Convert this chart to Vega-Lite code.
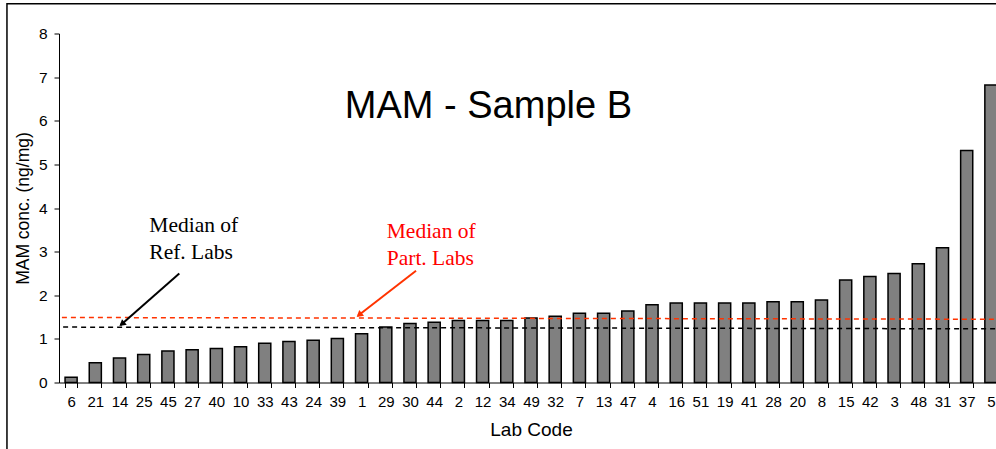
{
  "$schema": "https://vega.github.io/schema/vega-lite/v6.json",
  "width": 937,
  "height": 349,
  "autosize": {"type": "none"},
  "padding": {"left": 59, "top": 33.5, "right": 0, "bottom": 66.5},
  "background": "white",
  "config": {"view": {"stroke": null}, "font": "Liberation Sans"},
  "datasets": {
    "bars": [
      {"lab": "6", "value": 0.12}, {"lab": "21", "value": 0.45}, {"lab": "14", "value": 0.56},
      {"lab": "25", "value": 0.64}, {"lab": "45", "value": 0.72}, {"lab": "27", "value": 0.75},
      {"lab": "40", "value": 0.78}, {"lab": "10", "value": 0.82}, {"lab": "33", "value": 0.90},
      {"lab": "43", "value": 0.94}, {"lab": "24", "value": 0.97}, {"lab": "39", "value": 1.01},
      {"lab": "1", "value": 1.12}, {"lab": "29", "value": 1.27}, {"lab": "30", "value": 1.35},
      {"lab": "44", "value": 1.38}, {"lab": "2", "value": 1.42}, {"lab": "12", "value": 1.42},
      {"lab": "34", "value": 1.42}, {"lab": "49", "value": 1.48}, {"lab": "32", "value": 1.52},
      {"lab": "7", "value": 1.59}, {"lab": "13", "value": 1.59}, {"lab": "47", "value": 1.64},
      {"lab": "4", "value": 1.78}, {"lab": "16", "value": 1.82}, {"lab": "51", "value": 1.82},
      {"lab": "19", "value": 1.82}, {"lab": "41", "value": 1.82}, {"lab": "28", "value": 1.85},
      {"lab": "20", "value": 1.85}, {"lab": "8", "value": 1.89}, {"lab": "15", "value": 2.35},
      {"lab": "42", "value": 2.43}, {"lab": "3", "value": 2.50}, {"lab": "48", "value": 2.72},
      {"lab": "31", "value": 3.09}, {"lab": "37", "value": 5.32}, {"lab": "5", "value": 6.82}
    ],
    "medians": [
      {"group": "Ref. Labs", "x": 0.17, "x2": 39, "y": 1.27, "y2": 1.23},
      {"group": "Part. Labs", "x": 0.12, "x2": 39, "y": 1.49, "y2": 1.45}
    ],
    "arrows": [
      {"group": "Ref. Labs", "x": 4.97, "y": 2.50, "x2": 2.55, "y2": 1.32},
      {"group": "Part. Labs", "x": 14.75, "y": 2.56, "x2": 12.35, "y2": 1.53}
    ],
    "heads": [
      {"group": "Ref. Labs", "x": 2.60, "y": 1.34},
      {"group": "Part. Labs", "x": 12.40, "y": 1.55}
    ],
    "title": [{"label": "MAM - Sample B", "x": 17.74, "y": 6.07}],
    "refText": [{"label": "Median of\nRef. Labs", "x": 3.73, "y": 3.45}],
    "partText": [{"label": "Median of\nPart. Labs", "x": 13.54, "y": 3.32}],
    "frame": [{"x": -2.15, "x2": 41, "y": 8.68, "y2": -2.5}]
  },
  "resolve": {"scale": {"x": "independent"}, "axis": {"x": "independent"}},
  "layer": [
    {
      "data": {"name": "bars"},
      "mark": {"type": "bar", "fill": "#808080", "stroke": "#000000", "strokeWidth": 1.5},
      "encoding": {
        "x": {
          "field": "lab", "type": "nominal", "sort": null,
          "scale": {"range": [0, 944], "paddingInner": 0.5, "paddingOuter": 0.25},
          "axis": {
            "title": "Lab Code", "titleFont": "Liberation Sans", "titleFontSize": 19, "titleFontWeight": "normal",
            "titleColor": "#000000", "titlePadding": 11,
            "labelAngle": 0, "labelFont": "Liberation Sans", "labelFontSize": 15, "labelColor": "#000000",
            "labelPadding": 7, "ticks": true, "tickSize": 5, "tickColor": "#000000", "tickWidth": 1,
            "domain": true, "domainColor": "#000000", "domainWidth": 1,
            "tickBand": "extent", "labelOverlap": false
          }
        },
        "y": {
          "field": "value", "type": "quantitative", "title": "MAM conc. (ng/mg)",
          "scale": {"domain": [0, 8], "nice": false},
          "axis": {
            "titleFont": "Liberation Sans", "titleFontSize": 17.5, "titleFontWeight": "normal",
            "titleColor": "#000000", "titlePadding": 6,
            "values": [0, 1, 2, 3, 4, 5, 6, 7, 8], "grid": false,
            "labelFont": "Liberation Sans", "labelFontSize": 15.5, "labelColor": "#000000", "labelPadding": 7,
            "ticks": true, "tickSize": 5, "tickColor": "#000000", "tickWidth": 1,
            "domain": true, "domainColor": "#000000", "domainWidth": 1
          }
        }
      }
    },
    {
      "data": {"name": "medians"},
      "mark": {"type": "rule", "strokeWidth": 1.5, "strokeDash": [5, 4]},
      "encoding": {
        "x": {"field": "x", "type": "quantitative", "scale": {"domain": [0, 39], "range": [0, 944], "nice": false, "zero": false}, "axis": null},
        "x2": {"field": "x2"},
        "y": {"field": "y", "type": "quantitative", "title": "MAM conc. (ng/mg)", "scale": {"domain": [0, 8], "nice": false}},
        "y2": {"field": "y2"},
        "color": {"field": "group", "type": "nominal", "scale": {"domain": ["Ref. Labs", "Part. Labs"], "range": ["#000000", "#ff3300"]}, "legend": null}
      }
    },
    {
      "data": {"name": "arrows"},
      "mark": {"type": "rule", "strokeWidth": 2},
      "encoding": {
        "x": {"field": "x", "type": "quantitative", "scale": {"domain": [0, 39], "range": [0, 944], "nice": false, "zero": false}, "axis": null},
        "x2": {"field": "x2"},
        "y": {"field": "y", "type": "quantitative", "title": "MAM conc. (ng/mg)", "scale": {"domain": [0, 8], "nice": false}},
        "y2": {"field": "y2"},
        "color": {"field": "group", "type": "nominal", "scale": {"domain": ["Ref. Labs", "Part. Labs"], "range": ["#000000", "#ff3300"]}, "legend": null}
      }
    },
    {
      "data": {"name": "heads"},
      "mark": {"type": "point", "shape": "triangle-up", "filled": true, "size": 55, "angle": 230, "opacity": 1},
      "encoding": {
        "x": {"field": "x", "type": "quantitative", "scale": {"domain": [0, 39], "range": [0, 944], "nice": false, "zero": false}, "axis": null},
        "y": {"field": "y", "type": "quantitative", "title": "MAM conc. (ng/mg)", "scale": {"domain": [0, 8], "nice": false}},
        "color": {"field": "group", "type": "nominal", "scale": {"domain": ["Ref. Labs", "Part. Labs"], "range": ["#000000", "#ff3300"]}, "legend": null}
      }
    },
    {
      "data": {"name": "title"},
      "mark": {"type": "text", "font": "Liberation Sans", "fontSize": 38, "align": "center", "baseline": "alphabetic", "color": "#000000"},
      "encoding": {
        "x": {"field": "x", "type": "quantitative", "scale": {"domain": [0, 39], "range": [0, 944], "nice": false, "zero": false}, "axis": null},
        "y": {"field": "y", "type": "quantitative", "title": "MAM conc. (ng/mg)", "scale": {"domain": [0, 8], "nice": false}},
        "text": {"field": "label"}
      }
    },
    {
      "data": {"name": "refText"},
      "mark": {"type": "text", "font": "Liberation Serif", "fontSize": 21.5, "align": "left", "baseline": "alphabetic", "lineBreak": "\n", "lineHeight": 27, "color": "#000000"},
      "encoding": {
        "x": {"field": "x", "type": "quantitative", "scale": {"domain": [0, 39], "range": [0, 944], "nice": false, "zero": false}, "axis": null},
        "y": {"field": "y", "type": "quantitative", "title": "MAM conc. (ng/mg)", "scale": {"domain": [0, 8], "nice": false}},
        "text": {"field": "label"}
      }
    },
    {
      "data": {"name": "partText"},
      "mark": {"type": "text", "font": "Liberation Serif", "fontSize": 21.5, "align": "left", "baseline": "alphabetic", "lineBreak": "\n", "lineHeight": 27, "color": "#ff0000"},
      "encoding": {
        "x": {"field": "x", "type": "quantitative", "scale": {"domain": [0, 39], "range": [0, 944], "nice": false, "zero": false}, "axis": null},
        "y": {"field": "y", "type": "quantitative", "title": "MAM conc. (ng/mg)", "scale": {"domain": [0, 8], "nice": false}},
        "text": {"field": "label"}
      }
    },
    {
      "data": {"name": "frame"},
      "mark": {"type": "rect", "fill": null, "fillOpacity": 0, "stroke": "#000000", "strokeWidth": 1.5},
      "encoding": {
        "x": {"field": "x", "type": "quantitative", "scale": {"domain": [0, 39], "range": [0, 944], "nice": false, "zero": false}, "axis": null},
        "x2": {"field": "x2"},
        "y": {"field": "y", "type": "quantitative", "title": "MAM conc. (ng/mg)", "scale": {"domain": [0, 8], "nice": false}},
        "y2": {"field": "y2"}
      }
    }
  ]
}
